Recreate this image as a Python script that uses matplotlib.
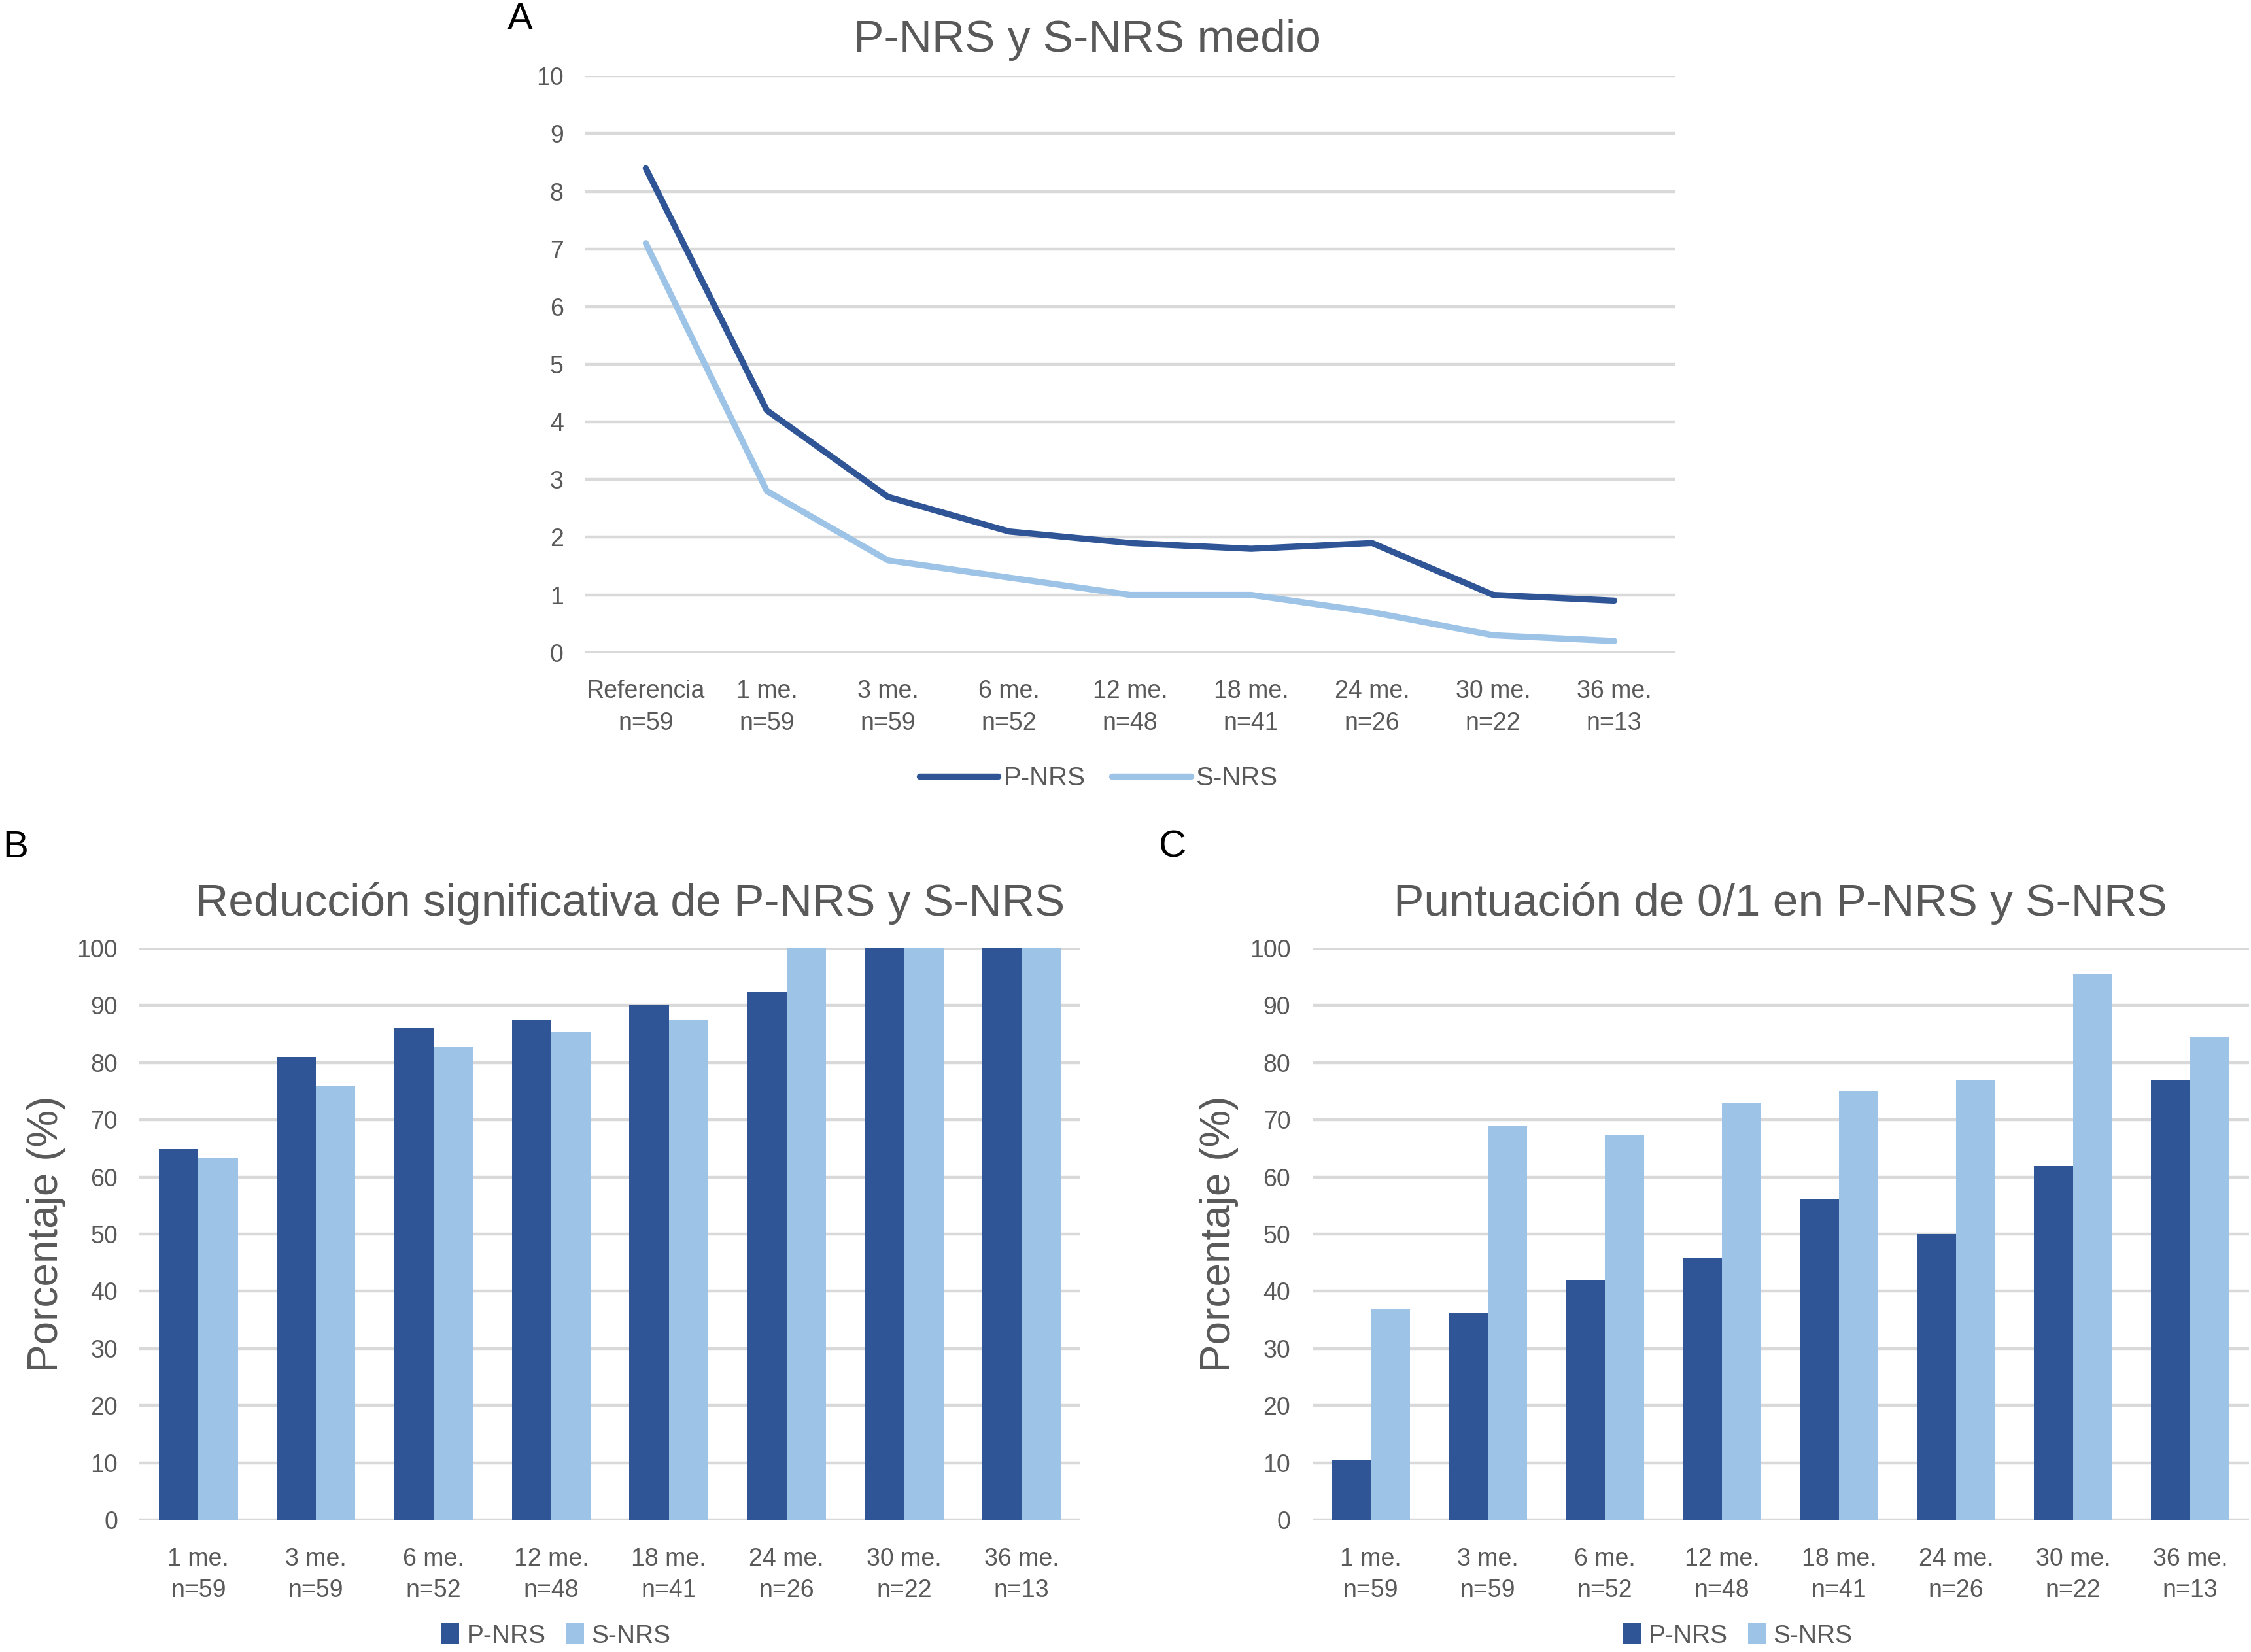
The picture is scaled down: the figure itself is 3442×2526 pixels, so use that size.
import matplotlib
matplotlib.use("Agg")
from matplotlib import pyplot as plt
import numpy as np

# data
line_cats = ["Referencia\nn=59", "1 me.\nn=59", "3 me.\nn=59", "6 me.\nn=52", "12 me.\nn=48",
             "18 me.\nn=41", "24 me.\nn=26", "30 me.\nn=22", "36 me.\nn=13"]
p_nrs_mean = [8.4, 4.2, 2.7, 2.1, 1.9, 1.8, 1.9, 1.0, 0.9]
s_nrs_mean = [7.1, 2.8, 1.6, 1.3, 1.0, 1.0, 0.7, 0.3, 0.2]

bar_cats = line_cats[1:]
p_reduction = [64.9, 81.0, 86.0, 87.5, 90.2, 92.3, 100, 100]
s_reduction = [63.3, 75.9, 82.7, 85.4, 87.5, 100, 100, 100]

p_score01 = [10.5, 36.2, 42.0, 45.8, 56.1, 50.0, 61.9, 76.9]
s_score01 = [36.8, 68.9, 67.3, 72.9, 75.0, 76.9, 95.5, 84.6]

dark = "#2F5597"
light = "#9DC3E6"
grey = "#595959"
grid = "#D9D9D9"
tick_font = ["Liberation Sans Narrow", "Liberation Sans", "DejaVu Sans"]
title_font = ["Liberation Sans", "DejaVu Sans"]

fig = plt.figure(figsize=(17.21, 12.63), dpi=200)


def style(ax, ymax, step):
    for s in ax.spines.values():
        s.set_visible(False)
    ax.set_ylim(0, ymax)
    ax.set_yticks(np.arange(0, ymax + step / 2, step))
    ax.grid(axis="y", color=grid, linewidth=1.6)
    ax.set_axisbelow(True)
    ax.tick_params(length=0, colors=grey, labelsize=13.5)
    ax.tick_params(axis="y", pad=12)
    ax.tick_params(axis="x", pad=15)
    for lab in ax.get_xticklabels() + ax.get_yticklabels():
        lab.set_family(tick_font)
    for lab in ax.get_xticklabels():
        lab.set_linespacing(1.45)


# A: line chart
axA = fig.add_axes([0.260, 0.605, 0.484, 0.349])
x = np.arange(len(line_cats))
axA.plot(x, p_nrs_mean, color=dark, linewidth=3.4, label="P-NRS", solid_capstyle="round")
axA.plot(x, s_nrs_mean, color=light, linewidth=3.4, label="S-NRS", solid_capstyle="round")
axA.set_xlim(-0.5, len(line_cats) - 0.5)
axA.set_xticks(x)
axA.set_xticklabels(line_cats)
style(axA, 10, 1)
fig.text(0.483, 0.976, "P-NRS y S-NRS medio", ha="center", va="center",
         fontsize=25, color=grey, family=title_font)
fig.text(0.231, 0.988, "A", ha="center", va="center", fontsize=21, family=title_font)
legA = fig.legend(handles=axA.get_lines(), loc="center", bbox_to_anchor=(0.488, 0.529),
                  ncol=2, frameon=False, handlelength=3.0, columnspacing=1.0,
                  handletextpad=0.2, prop={"family": tick_font, "size": 14.5})
for t in legA.get_texts():
    t.set_color(grey)


def bar_panel(rect, p_vals, s_vals, title, title_x, letter_x, leg_x):
    ax = fig.add_axes(rect)
    xb = np.arange(len(bar_cats))
    w = 0.335
    ax.bar(xb - w / 2, p_vals, w, color=dark, label="P-NRS")
    ax.bar(xb + w / 2, s_vals, w, color=light, label="S-NRS")
    ax.set_xlim(-0.5, len(bar_cats) - 0.5)
    ax.set_xticks(xb)
    ax.set_xticklabels(bar_cats)
    style(ax, 100, 10)
    ax.set_ylabel("Porcentaje (%)", fontsize=23, color=grey, family=title_font, labelpad=6)
    fig.text(title_x, 0.453, title, ha="center", va="center", fontsize=25,
             color=grey, family=title_font)
    fig.text(letter_x, 0.487, letter_for[title], ha="center", va="center",
             fontsize=21, family=title_font)
    h, l = ax.get_legend_handles_labels()
    leg = fig.legend(h, l, loc="center", bbox_to_anchor=(leg_x, 0.010), ncol=2,
                     frameon=False, handlelength=0.7, handleheight=0.9,
                     columnspacing=0.8, handletextpad=0.3,
                     prop={"family": tick_font, "size": 14})
    for t in leg.get_texts():
        t.set_color(grey)
    return ax


title_B = "Reducción significativa de P-NRS y S-NRS"
title_C = "Puntuación de 0/1 en P-NRS y S-NRS"
letter_for = {title_B: "B", title_C: "C"}

bar_panel([0.062, 0.080, 0.418, 0.346], p_reduction, s_reduction, title_B, 0.280, 0.007, 0.247)
bar_panel([0.583, 0.080, 0.416, 0.346], p_score01, s_score01, title_C, 0.791, 0.521, 0.772)

fig.savefig("out.png", dpi=200)
